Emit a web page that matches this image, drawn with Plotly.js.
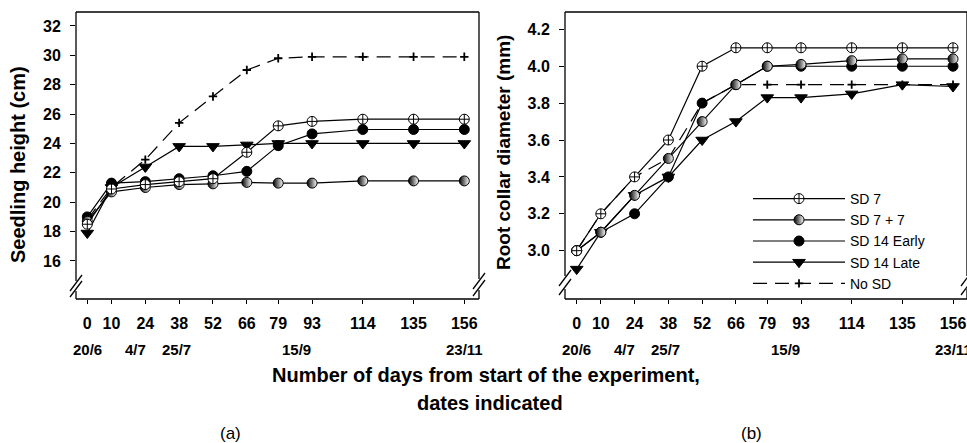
<!DOCTYPE html>
<html><head><meta charset="utf-8">
<script src="https://cdn.plot.ly/plotly-3.0.1.min.js"></script>
<style>html,body{margin:0;padding:0;background:#fff}#chart{width:967px;height:443px}</style>
</head><body><div id="chart"></div>
<script>
// ---- data ----
const days = [0, 10, 24, 38, 52, 66, 79, 93, 114, 135, 156];
const dayTickLabels = ['0', '10', '24', '38', '52', '66', '79', '93', '114', '135', '156'];
const dateLabels = ['20/6', '4/7', '25/7', '15/9', '23/11'];
const dateLabelDays = [0, 20, 37, 86.5, 156];
const seriesNames = ['SD 7', 'SD 7 + 7', 'SD 14 Early', 'SD 14 Late', 'No SD'];

// (a) seedling height (cm)
const heightSD7     = [18.5, 20.9, 21.2, 21.4, 21.6, 23.4, 25.2, 25.5, 25.65, 25.65, 25.65];
const heightSD77    = [18.7, 20.7, 21.0, 21.2, 21.25, 21.35, 21.3, 21.3, 21.45, 21.45, 21.45];
const heightSD14E   = [19.0, 21.3, 21.4, 21.6, 21.8, 22.1, 23.85, 24.65, 24.95, 24.95, 24.95];
const heightSD14L   = [17.9, 21.0, 22.4, 23.8, 23.8, 23.9, 24.0, 24.0, 24.0, 24.0, 24.0];
const heightNoSD    = [18.8, 21.0, 22.9, 25.4, 27.2, 29.0, 29.8, 29.9, 29.9, 29.9, 29.9];

// (b) root collar diameter (mm)
const diamSD7   = [3.0, 3.2, 3.4, 3.6, 4.0, 4.1, 4.1, 4.1, 4.1, 4.1, 4.1];
const diamSD77  = [3.0, 3.1, 3.3, 3.5, 3.7, 3.9, 4.0, 4.01, 4.03, 4.04, 4.04];
const diamSD14E = [3.0, 3.1, 3.2, 3.4, 3.8, 3.9, 4.0, 4.0, 4.0, 4.0, 4.0];
const diamSD14L = [2.9, 3.1, 3.3, 3.4, 3.6, 3.7, 3.83, 3.83, 3.85, 3.9, 3.89];
const diamNoSD  = [3.0, 3.2, 3.4, 3.5, 3.8, 3.9, 3.9, 3.9, 3.9, 3.9, 3.9];

const heightTicks = [16, 18, 20, 22, 24, 26, 28, 30, 32];
const diamTicks = [3.0, 3.2, 3.4, 3.6, 3.8, 4.0, 4.2];

// ---- styles ----
const W = 967, H = 443;
const FONT = 'Liberation Sans, Arial, Helvetica, sans-serif';
const styles = [
  {marker: {symbol: 'circle-cross', size: 10, color: 'white', line: {color: 'black', width: 1}}, line: {color: 'black', width: 1.2}},
  {marker: {symbol: 'circle', size: 10, color: 'black', gradient: {type: 'horizontal', color: 'white'}, line: {color: 'black', width: 1}}, line: {color: 'black', width: 1.2}},
  {marker: {symbol: 'circle', size: 10, color: 'black', line: {color: 'black', width: 1}}, line: {color: 'black', width: 1.2}},
  {marker: {symbol: 'triangle-down', size: 11, color: 'black', line: {color: 'black', width: 1}}, line: {color: 'black', width: 1.2}},
  {marker: {symbol: 'cross-thin', size: 6, color: 'black', line: {color: 'black', width: 1.8}}, line: {color: 'black', width: 1.2, dash: '14px,8px'}}
];
const heightSeries = [heightSD7, heightSD77, heightSD14E, heightSD14L, heightNoSD];
const diamSeries = [diamSD7, diamSD77, diamSD14E, diamSD14L, diamNoSD];

const traces = [];
const order = [4, 3, 2, 1, 0];
order.forEach(i => {
  traces.push(Object.assign({x: days, y: heightSeries[i], type: 'scatter', mode: 'lines+markers',
    name: seriesNames[i], xaxis: 'x', yaxis: 'y', showlegend: false, legendrank: i}, JSON.parse(JSON.stringify(styles[i]))));
});
order.forEach(i => {
  traces.push(Object.assign({x: days, y: diamSeries[i], type: 'scatter', mode: 'lines+markers',
    name: seriesNames[i], xaxis: 'x2', yaxis: 'y2', showlegend: true, legendrank: i}, JSON.parse(JSON.stringify(styles[i]))));
});

// ---- frame with axis breaks (pixel geometry) ----
const px = v => v / W, py = v => 1 - v / H;
function seg(x0, y0, x1, y1) {
  return {type: 'line', xref: 'paper', yref: 'paper', x0: px(x0), y0: py(y0), x1: px(x1), y1: py(y1),
    line: {color: 'black', width: 1.3}};
}
function frame(l, r, t, b, breakL, breakR) {
  const s = [seg(l, t, r, t), seg(l, b, r, b),
    seg(l, t, l, breakL[0]), seg(l, breakL[1], l, b),
    seg(r, t, r, breakR[0]), seg(r, breakR[1], r, b)];
  [[l, breakL], [r, breakR]].forEach(([x, br]) => {
    const c1 = br[0] + 2, c2 = br[1] - 2;
    s.push(seg(x - 6, c1 + 8, x + 6, c1 - 8));
    s.push(seg(x - 6, c2 + 8, x + 6, c2 - 8));
  });
  return s;
}
const shapes = [].concat(
  frame(76, 479, 12, 299, [281, 291], [279, 290]),
  frame(565, 967, 12, 299, [276, 289], [276, 289])
);

const tickFont = {family: FONT, size: 16, weight: 'bold', color: 'black'};
const axisCommon = {showgrid: false, zeroline: false, showline: false, ticks: 'outside', tickcolor: 'black', tickwidth: 1, tickfont: tickFont};

const annotations = [];
dateLabels.forEach((t, i) => {
  ['x', 'x2'].forEach(xr => annotations.push({text: t, xref: xr, x: dateLabelDays[i], yref: 'paper', y: py(349),
    showarrow: false, xanchor: 'center', yanchor: 'middle', font: {family: FONT, size: 15, weight: 'bold', color: 'black'}}));
});
annotations.push({text: 'Seedling height (cm)', xref: 'paper', yref: 'paper', x: px(18), y: py(165), textangle: -90,
  showarrow: false, xanchor: 'center', yanchor: 'middle', font: {family: FONT, size: 20, weight: 'bold', color: 'black'}});
annotations.push({text: 'Root collar diameter (mm)', xref: 'paper', yref: 'paper', x: px(503), y: py(153), textangle: -90,
  showarrow: false, xanchor: 'center', yanchor: 'middle', font: {family: FONT, size: 19, weight: 'bold', color: 'black'}});
annotations.push({text: 'Number of days from start of the experiment,', xref: 'paper', yref: 'paper', x: px(486), y: py(375),
  showarrow: false, xanchor: 'center', yanchor: 'middle', font: {family: FONT, size: 20, weight: 'bold', color: 'black'}});
annotations.push({text: 'dates indicated', xref: 'paper', yref: 'paper', x: px(490), y: py(403),
  showarrow: false, xanchor: 'center', yanchor: 'middle', font: {family: FONT, size: 20, weight: 'bold', color: 'black'}});
annotations.push({text: '(a)', xref: 'paper', yref: 'paper', x: px(230), y: py(433),
  showarrow: false, xanchor: 'center', yanchor: 'middle', font: {family: FONT, size: 17, color: 'black'}});
annotations.push({text: '(b)', xref: 'paper', yref: 'paper', x: px(751), y: py(433),
  showarrow: false, xanchor: 'center', yanchor: 'middle', font: {family: FONT, size: 17, color: 'black'}});

const layout = {
  width: W, height: H, margin: {l: 0, r: 0, t: 0, b: 0}, paper_bgcolor: 'white', plot_bgcolor: 'white',
  showlegend: true,
  xaxis: Object.assign({}, axisCommon, {domain: [px(76), px(479)], range: [-4.68, 162.08], tickvals: days, ticktext: dayTickLabels,
    ticklen: 4, ticklabelstandoff: 6, anchor: 'y'}),
  yaxis: Object.assign({}, axisCommon, {domain: [py(299), py(12)], range: [13.41, 32.95], tickvals: heightTicks,
    ticklen: 5, ticklabelstandoff: 6, anchor: 'x'}),
  xaxis2: Object.assign({}, axisCommon, {domain: [px(565), 1], range: [-4.85, 161.8], tickvals: days, ticktext: dayTickLabels,
    ticklen: 4, ticklabelstandoff: 6, anchor: 'y2'}),
  yaxis2: Object.assign({}, axisCommon, {domain: [py(299), py(12)], range: [2.738, 4.294], tickvals: diamTicks, tickformat: '.1f',
    ticklen: 5, ticklabelstandoff: 6, anchor: 'x2'}),
  legend: {x: px(748), y: py(183), xanchor: 'left', yanchor: 'top', bgcolor: 'rgba(0,0,0,0)', borderwidth: 0,
    font: {family: FONT, size: 14, color: 'black'}, itemwidth: 92, tracegroupgap: 0, traceorder: 'normal'},
  shapes: shapes,
  annotations: annotations
};

Plotly.newPlot('chart', traces, layout, {staticPlot: true, displayModeBar: false});
</script>
</body></html>
